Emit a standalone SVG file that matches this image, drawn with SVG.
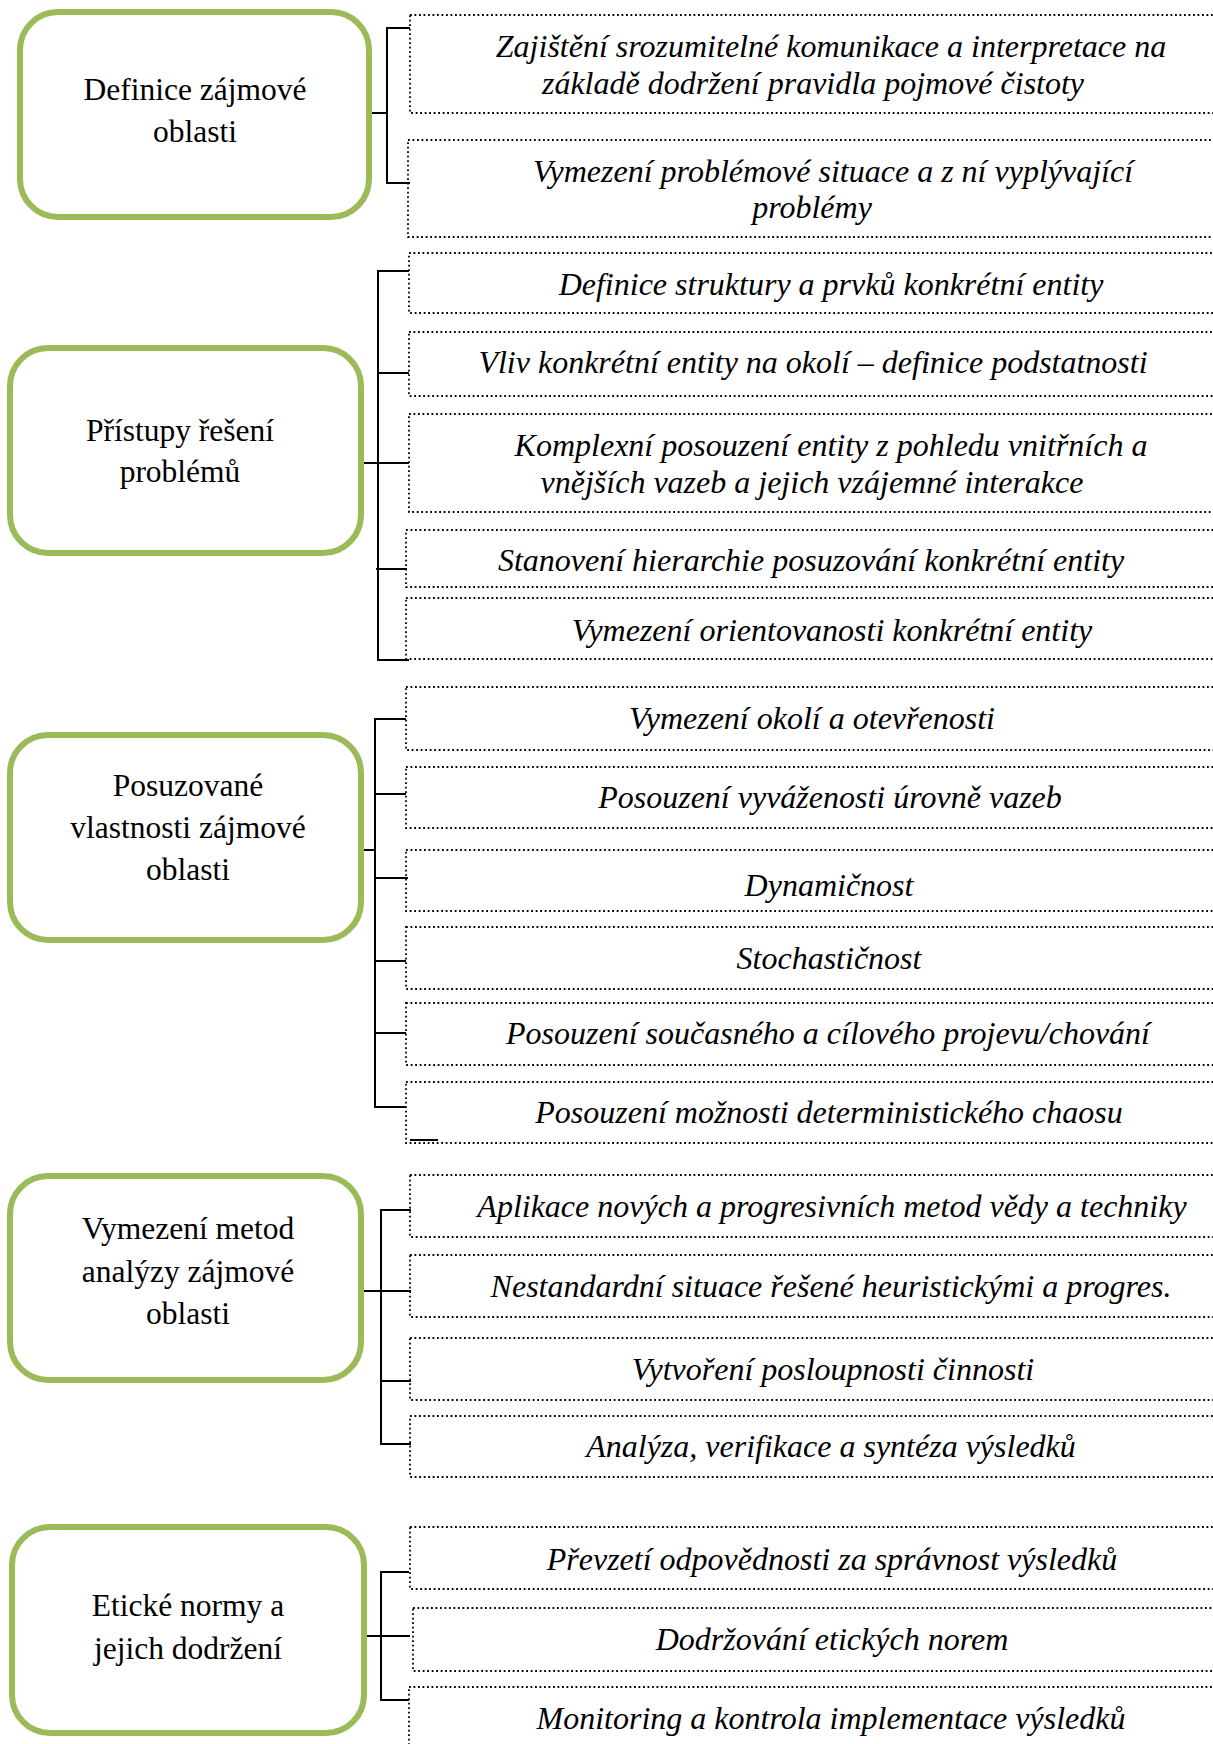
<svg xmlns="http://www.w3.org/2000/svg" width="1213" height="1744" viewBox="0 0 1213 1744">
  <style>
    .node { fill: #ffffff; stroke: #9BBB59; stroke-width: 6; }
    .node-label { font-family: "Liberation Serif", "Times New Roman", serif; font-size: 31.5px; fill: #000; text-anchor: middle; }
    .item { fill: none; stroke: #000; stroke-width: 1.8; stroke-dasharray: 1.8 2.7; }
    .item-label { font-family: "Liberation Serif", "Times New Roman", serif; font-style: italic; font-size: 32px; fill: #000; text-anchor: middle; }
    .conn { fill: none; stroke: #000; stroke-width: 2; }
  </style>
  <rect width="1213" height="1744" fill="#ffffff"/>

  <!-- connectors: brackets joining each topic to its items -->
  <g id="connectors">
    <path class="conn" d="M372 113H387 M410 28H387V183H410"/>
    <path class="conn" d="M364 463H409 M409 271H378V660H409 M378 373H409 M376 569H407"/>
    <path class="conn" d="M358 850H375 M406 719H375V1107H406 M375 794H406 M375 878H408 M375 961H406 M375 1033H406 M410 1140H438"/>
    <path class="conn" d="M358 1291H411 M411 1210H381V1444H411 M381 1381H411"/>
    <path class="conn" d="M363 1636H410 M409 1572H381V1700H409"/>
  </g>

  <!-- topic 1 -->
  <g id="topic-definice">
    <rect class="node" x="20" y="12" width="349" height="205" rx="38"/>
    <text class="node-label" x="195" y="100">Definice zájmové</text>
    <text class="node-label" x="195" y="142">oblasti</text>
  </g>
  <g id="item-1-1">
    <rect class="item" x="410" y="15" width="830" height="98"/>
    <text class="item-label" x="831" y="57">Zajištění srozumitelné komunikace a interpretace na</text>
    <text class="item-label" x="813" y="94">základě dodržení pravidla pojmové čistoty</text>
  </g>
  <g id="item-1-2">
    <rect class="item" x="408" y="140" width="832" height="97"/>
    <text class="item-label" x="833" y="182">Vymezení problémové situace a z ní vyplývající</text>
    <text class="item-label" x="812" y="218">problémy</text>
  </g>

  <!-- topic 2 -->
  <g id="topic-pristupy">
    <rect class="node" x="10" y="348" width="351" height="205" rx="38"/>
    <text class="node-label" x="180" y="441">Přístupy řešení</text>
    <text class="node-label" x="180" y="482">problémů</text>
  </g>
  <g id="item-2-1">
    <rect class="item" x="409" y="253" width="831" height="60"/>
    <text class="item-label" x="831" y="295">Definice struktury a prvků konkrétní entity</text>
  </g>
  <g id="item-2-2">
    <rect class="item" x="409" y="332" width="831" height="64"/>
    <text class="item-label" x="813" y="373">Vliv konkrétní entity na okolí – definice podstatnosti</text>
  </g>
  <g id="item-2-3">
    <rect class="item" x="409" y="414" width="831" height="98"/>
    <text class="item-label" x="831" y="456">Komplexní posouzení entity z pohledu vnitřních a</text>
    <text class="item-label" x="812" y="493">vnějších vazeb a jejich vzájemné interakce</text>
  </g>
  <g id="item-2-4">
    <rect class="item" x="406" y="530" width="834" height="57"/>
    <text class="item-label" x="811" y="571">Stanovení hierarchie posuzování konkrétní entity</text>
  </g>
  <g id="item-2-5">
    <rect class="item" x="406" y="598" width="834" height="61"/>
    <text class="item-label" x="832" y="641">Vymezení orientovanosti konkrétní entity</text>
  </g>

  <!-- topic 3 -->
  <g id="topic-posuzovane">
    <rect class="node" x="10" y="735" width="351" height="205" rx="38"/>
    <text class="node-label" x="188" y="796">Posuzované</text>
    <text class="node-label" x="188" y="838">vlastnosti zájmové</text>
    <text class="node-label" x="188" y="880">oblasti</text>
  </g>
  <g id="item-3-1">
    <rect class="item" x="406" y="687" width="834" height="63"/>
    <text class="item-label" x="812" y="729">Vymezení okolí a otevřenosti</text>
  </g>
  <g id="item-3-2">
    <rect class="item" x="406" y="767" width="834" height="61"/>
    <text class="item-label" x="830" y="808">Posouzení vyváženosti úrovně vazeb</text>
  </g>
  <g id="item-3-3">
    <rect class="item" x="406" y="850" width="834" height="61"/>
    <text class="item-label" x="829" y="896">Dynamičnost</text>
  </g>
  <g id="item-3-4">
    <rect class="item" x="406" y="927" width="834" height="62"/>
    <text class="item-label" x="829" y="969">Stochastičnost</text>
  </g>
  <g id="item-3-5">
    <rect class="item" x="406" y="1003" width="834" height="62"/>
    <text class="item-label" x="828" y="1044">Posouzení současného a cílového projevu/chování</text>
  </g>
  <g id="item-3-6">
    <rect class="item" x="406" y="1082" width="834" height="61"/>
    <text class="item-label" x="829" y="1123">Posouzení možnosti deterministického chaosu</text>
  </g>

  <!-- topic 4 -->
  <g id="topic-metody">
    <rect class="node" x="10" y="1176" width="351" height="204" rx="38"/>
    <text class="node-label" x="188" y="1239">Vymezení metod</text>
    <text class="node-label" x="188" y="1282">analýzy zájmové</text>
    <text class="node-label" x="188" y="1324">oblasti</text>
  </g>
  <g id="item-4-1">
    <rect class="item" x="410" y="1175" width="830" height="62"/>
    <text class="item-label" x="832" y="1217">Aplikace nových a progresivních metod vědy a techniky</text>
  </g>
  <g id="item-4-2">
    <rect class="item" x="410" y="1255" width="830" height="62"/>
    <text class="item-label" x="831" y="1297">Nestandardní situace řešené heuristickými a progres.</text>
  </g>
  <g id="item-4-3">
    <rect class="item" x="410" y="1338" width="830" height="62"/>
    <text class="item-label" x="833" y="1380">Vytvoření posloupnosti činnosti</text>
  </g>
  <g id="item-4-4">
    <rect class="item" x="410" y="1416" width="830" height="61"/>
    <text class="item-label" x="831" y="1457">Analýza, verifikace a syntéza výsledků</text>
  </g>

  <!-- topic 5 -->
  <g id="topic-eticke">
    <rect class="node" x="12" y="1527" width="352" height="206" rx="38"/>
    <text class="node-label" x="188" y="1616">Etické normy a</text>
    <text class="node-label" x="188" y="1659">jejich dodržení</text>
  </g>
  <g id="item-5-1">
    <rect class="item" x="410" y="1527" width="830" height="62"/>
    <text class="item-label" x="832" y="1570">Převzetí odpovědnosti za správnost výsledků</text>
  </g>
  <g id="item-5-2">
    <rect class="item" x="413" y="1608" width="827" height="63"/>
    <text class="item-label" x="832" y="1650">Dodržování etických norem</text>
  </g>
  <g id="item-5-3">
    <rect class="item" x="409" y="1687" width="831" height="80"/>
    <text class="item-label" x="831" y="1729">Monitoring a kontrola implementace výsledků</text>
  </g>
</svg>
